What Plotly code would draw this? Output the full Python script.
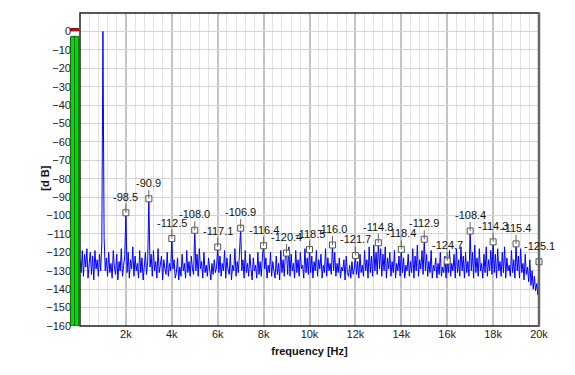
import plotly.graph_objects as go

# ---------------- data ----------------
BIN_HZ = 50  # spectrum bin spacing
# noise floor readings (dB), one row per kHz, 20 bins of 50 Hz each
noise_rows = [
    [-124, -131, -119, -133, -121, -128, -118, -134, -126, -120, -132, -122, -135, -119, -129, -124, -133, -121, -130, -115],
    [0, -112, -130, -123, -133, -120, -131, -126, -134, -119, -128, -132, -121, -135, -125, -130, -118, -133, -127, -122],
    [-98.5, -131, -120, -134, -124, -129, -117, -133, -122, -130, -126, -134, -119, -131, -123, -135, -128, -120, -132, -125],
    [-90.9, -128, -121, -133, -119, -130, -125, -134, -118, -131, -127, -122, -135, -124, -129, -132, -120, -133, -126, -130],
    [-112.5, -129, -124, -134, -131, -123, -135, -128, -133, -121, -130, -126, -134, -119, -131, -125, -133, -122, -129, -132],
    [-108.0, -130, -121, -133, -118, -129, -125, -134, -120, -131, -127, -133, -123, -130, -135, -126, -132, -124, -131, -128],
    [-117.1, -131, -122, -133, -126, -130, -119, -134, -123, -129, -132, -121, -135, -127, -130, -118, -133, -125, -131, -120],
    [-106.9, -130, -124, -134, -119, -131, -126, -133, -121, -129, -135, -123, -130, -127, -134, -120, -132, -125, -133, -122],
    [-116.4, -129, -123, -134, -127, -131, -120, -133, -125, -130, -134, -122, -132, -126, -135, -119, -131, -124, -133, -121],
    [-120.4, -132, -117, -133, -121, -130, -126, -134, -119, -131, -124, -133, -120, -129, -127, -134, -118, -131, -123, -132],
    [-118.5, -131, -122, -134, -125, -130, -119, -133, -124, -129, -121, -134, -127, -131, -118, -133, -123, -130, -126, -132],
    [-116.0, -130, -120, -133, -126, -131, -123, -134, -128, -130, -124, -135, -122, -131, -133, -127, -134, -125, -132, -129],
    [-121.7, -132, -125, -134, -121, -131, -127, -133, -119, -130, -124, -134, -117, -131, -122, -133, -116, -130, -120, -132],
    [-114.8, -129, -118, -133, -121, -130, -117, -134, -123, -129, -120, -133, -125, -131, -119, -134, -126, -130, -122, -133],
    [-118.4, -131, -123, -134, -127, -130, -121, -133, -125, -131, -118, -134, -122, -130, -116, -133, -124, -129, -119, -132],
    [-112.9, -130, -121, -133, -125, -131, -119, -134, -127, -130, -123, -134, -126, -132, -120, -133, -128, -131, -122, -134],
    [-124.7, -131, -119, -133, -126, -130, -121, -134, -118, -131, -124, -133, -117, -130, -122, -134, -120, -131, -125, -133],
    [-108.4, -130, -120, -134, -116, -131, -123, -133, -118, -130, -126, -134, -121, -131, -117, -133, -124, -130, -119, -132],
    [-114.3, -131, -121, -134, -118, -130, -125, -133, -120, -131, -117, -134, -123, -130, -127, -133, -119, -131, -124, -134],
    [-115.4, -130, -122, -134, -118, -131, -126, -135, -121, -132, -128, -136, -124, -138, -130, -140, -133, -141, -137, -143],
]
last_bin_db = -125.1

harm_freq = [2000, 3000, 4000, 5000, 6000, 7000, 8000, 9000, 10000, 11000,
             12000, 13000, 14000, 15000, 16000, 17000, 18000, 19000, 20000]
harm_db = [-98.5, -90.9, -112.5, -108.0, -117.1, -106.9, -116.4, -120.4, -118.5, -116.0,
           -121.7, -114.8, -118.4, -112.9, -124.7, -108.4, -114.3, -115.4, -125.1]

x_tickvals = [2000, 4000, 6000, 8000, 10000, 12000, 14000, 16000, 18000, 20000]
x_ticktext = ["2k", "4k", "6k", "8k", "10k", "12k", "14k", "16k", "18k", "20k"]
y_tickvals = list(range(0, -161, -10))
meter_level_db = -2.7

# ---------------- build spectrum ----------------
spec_db = [v for row in noise_rows for v in row] + [last_bin_db]
spec_hz = [i * BIN_HZ for i in range(len(spec_db))]

FONT = "Arial, Liberation Sans, sans-serif"

fig = go.Figure()
fig.add_trace(go.Scatter(x=spec_hz, y=spec_db, mode="lines",
                         line=dict(color="#0000ff", width=1), hoverinfo="skip",
                         showlegend=False, cliponaxis=True))
fig.add_trace(go.Scatter(x=harm_freq, y=harm_db, mode="markers",
                         marker=dict(symbol="square", size=6, color="white",
                                     line=dict(color="#555555", width=1)),
                         showlegend=False, cliponaxis=False))

for f, d in zip(harm_freq, harm_db):
    fig.add_annotation(x=f, y=d, text=f"{d:.1f}", showarrow=True, arrowhead=0,
                       arrowwidth=1, arrowcolor="#666666", ax=0, ay=-9,
                       yanchor="bottom", font=dict(family=FONT, size=11, color="#111111"),
                       borderpad=0)

# y axis title centred on the 0..-160 dB span
fig.add_annotation(text="<b>[d B]</b>", xref="paper", yref="y", x=0, y=-80,
                   xanchor="center", yanchor="middle",
                   xshift=-35, showarrow=False, textangle=-90,
                   font=dict(family=FONT, size=11, color="#111111"))

# level meter at the left of the axis
fig.add_shape(type="rect", xref="paper", yref="y", x0=-0.0205, x1=-0.003,
              y0=-160, y1=meter_level_db, fillcolor="#00dd00",
              line=dict(color="#007000", width=1), layer="above")
fig.add_shape(type="line", xref="paper", yref="y", x0=-0.0118, x1=-0.0118,
              y0=-160, y1=meter_level_db, line=dict(color="#006000", width=1))
fig.add_shape(type="rect", xref="paper", yref="y", x0=-0.0205, x1=-0.003,
              y0=0.3, y1=1.6, fillcolor="#ee0000",
              line=dict(color="#800000", width=1))

# plot frame
fig.add_shape(type="rect", xref="paper", yref="paper", x0=0, x1=1, y0=0, y1=1,
              line=dict(color="#222222", width=1.5), layer="above")
fig.add_shape(type="line", xref="paper", yref="paper", x0=1, x1=1, y0=0, y1=1,
              line=dict(color="#666666", width=2.5), layer="above")

# page body adds an 8 px margin, so the figure is sized to compensate
fig.update_layout(
    width=567, height=367,
    margin=dict(l=72, r=36, t=5, b=49, autoexpand=False),
    paper_bgcolor="white", plot_bgcolor="white",
    font=dict(family=FONT, size=11, color="#222222"),
    xaxis=dict(range=[0, 20000], tickvals=x_tickvals, ticktext=x_ticktext,
               showgrid=True, gridcolor="#c4c4c4", gridwidth=2, zeroline=False,
               minor=dict(dtick=400, showgrid=True, gridcolor="#e2e2e2", gridwidth=1),
               ticks="", showline=False, automargin=False,
               title=dict(text="<b>frequency [Hz]</b>", standoff=8,
                          font=dict(family=FONT, size=11, color="#111111")),
               tickfont=dict(family=FONT, size=11, color="#222222")),
    yaxis=dict(range=[-160, 10], tickvals=y_tickvals, showgrid=True,
               gridcolor="#d4d4d4", gridwidth=1, zeroline=False, ticks="",
               showline=False, ticklabelstandoff=8, automargin=False,
               tickfont=dict(family=FONT, size=11, color="#222222")),
)

fig.write_html("out.html")
